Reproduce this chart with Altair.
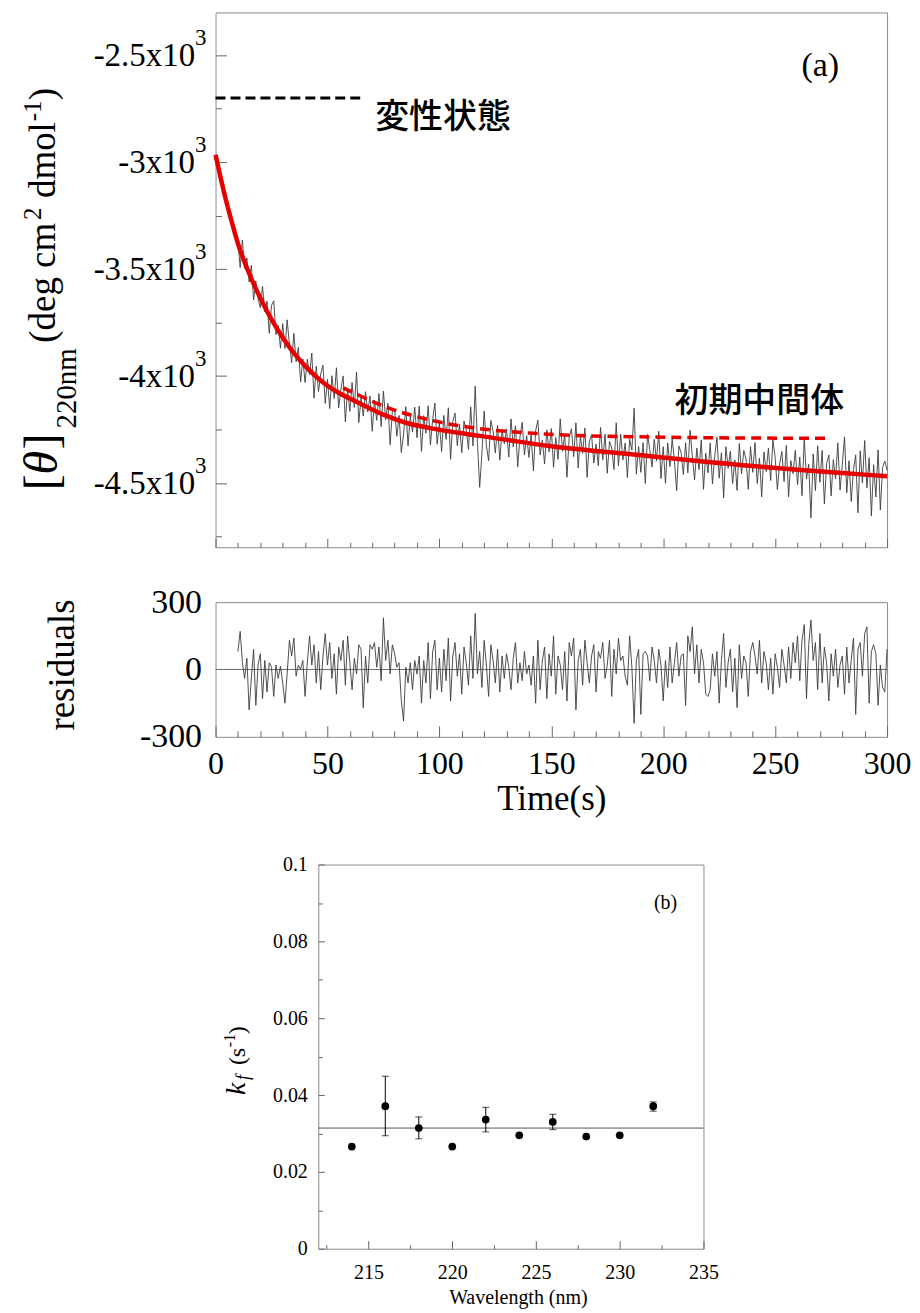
import altair as alt
import pandas as pd

SERIF = "Liberation Serif"
CJK = "Noto Sans CJK JP"
RED = "#e60000"
FRAME = "#8c8c8c"
TICK = "#666666"
TRACE = "#3c3c3c"

# ---------------- panel (a): kinetic trace ----------------
time_s = list(range(10, 301))
theta_obs = [
    -3370, -3492, -3364, -3496, -3448, -3560, -3482, -3644, -3556, -3638,
    -3680, -3580, -3700, -3650, -3800, -3670, -3648, -3806, -3763, -3870,
    -3755, -3871, -3737, -3852, -3937, -3800, -3933, -3866, -4028, -3920,
    -4030, -3921, -3992, -3892, -4103, -3953, -4072, -3990, -3949, -4127,
    -4015, -4152, -3998, -4105, -3961, -4148, -4063, -3999, -4214, -4060,
    -4165, -4030, -4146, -3981, -4217, -4102, -4187, -4073, -4168, -4093,
    -4258, -4112, -4207, -4081, -4236, -4070, -4204, -4127, -4321, -4164,
    -4158, -4281, -4184, -4357, -4270, -4143, -4326, -4189, -4262, -4145,
    -4288, -4140, -4352, -4185, -4267, -4139, -4321, -4203, -4126, -4318,
    -4220, -4352, -4184, -4296, -4148, -4389, -4211, -4173, -4325, -4226,
    -4358, -4210, -4251, -4343, -4144, -4326, -4047, -4309, -4520, -4362,
    -4163, -4324, -4396, -4207, -4259, -4360, -4231, -4393, -4254, -4316,
    -4247, -4378, -4200, -4331, -4232, -4424, -4285, -4216, -4368, -4279,
    -4380, -4272, -4443, -4255, -4206, -4368, -4299, -4411, -4252, -4354,
    -4245, -4426, -4287, -4389, -4200, -4351, -4272, -4473, -4285, -4246,
    -4377, -4218, -4429, -4280, -4361, -4242, -4473, -4304, -4275, -4407,
    -4318, -4419, -4240, -4391, -4272, -4454, -4305, -4336, -4437, -4218,
    -4420, -4271, -4392, -4313, -4474, -4295, -4346, -4150, -4458, -4329,
    -4450, -4311, -4502, -4273, -4344, -4425, -4296, -4397, -4258, -4479,
    -4330, -4501, -4312, -4423, -4294, -4395, -4536, -4327, -4358, -4460,
    -4311, -4452, -4253, -4374, -4485, -4336, -4437, -4298, -4529, -4360,
    -4452, -4313, -4504, -4375, -4286, -4477, -4358, -4569, -4330, -4431,
    -4351, -4502, -4393, -4534, -4315, -4456, -4347, -4388, -4529, -4330,
    -4450, -4311, -4502, -4383, -4564, -4355, -4446, -4337, -4488, -4299,
    -4379, -4530, -4411, -4352, -4493, -4324, -4564, -4395, -4456, -4347,
    -4507, -4378, -4559, -4290, -4481, -4412, -4663, -4364, -4535, -4326,
    -4496, -4347, -4598, -4408, -4369, -4560, -4391, -4481, -4312, -4533,
    -4413, -4284, -4545, -4396, -4586, -4437, -4368, -4639, -4349, -4500,
    -4301, -4522, -4382, -4653, -4414, -4565, -4345, -4626, -4427, -4397,
    -4440,
]
residual = [
    80, 170, 30, -40, 50, -180, -40, 90, -160, 20,
    70, -130, 40, -100, 30, 10, -120, 20, -40, 15,
    -60, -150, -20, 130, 60, 140, -30, 20, 0, 40,
    -120, 30, 150, 20, 110, -60, 80, -90, 60, 160,
    20, 120, -40, 70, -110, 100, 40, 130, -70, 150,
    30, -90, 50, -20, 110, 90, -170, 60, -60, 110,
    90, 120, 10, 100, -50, 230, 40, 130, -20, 110,
    70, 10, 30, -140, -230, 10, -60, 30, -90, 40,
    -20, 60, -150, 40, -60, 120, -130, 80, 130, -90,
    50, -100, 90, -50, 140, -140, 60, 120, -30, 70,
    -110, 100, 30, -70, 150, -40, 250, -20, 80, -80,
    130, 20, -120, 110, 40, -60, 90, -100, 60, -40,
    70, 10, -90, 50, 120, -60, 30, -50, 80, -20,
    20, -70, 60, -150, 130, -90, 40, 100, -130, 70,
    -30, 150, -110, 60, 20, -90, 80, -140, 120, 60,
    140, -180, 40, 90, -70, 130, 30, -60, 60, 110,
    -100, 80, 50, 120, -40, 20, 130, -120, 90, -20,
    140, 40, 60, -30, -70, 150, 10, -240, 40, 90,
    -200, 70, 80, 60, -50, 100, 40, -60, 90, 20,
    -140, 40, -80, 100, -60, 30, 120, -30, 60, 70,
    -160, 150, 80, 190, -20, 110, -60, 90, 30, -110,
    -120, -90, 70, -30, 80, -150, 40, 160, -80, 30,
    90, -100, 50, -170, 110, -40, 60, 30, -120, 80,
    120, 60, -20, 130, -60, 80, 30, -90, 50, -110,
    70, 10, -80, 90, 20, -60, 100, -40, 120, 30,
    150, -50, 130, 200, -130, 110, 220, 40, 120, -90,
    160, -60, 100, 30, -140, 70, -30, 90, -80, 20,
    60, -110, 100, -60, 40, 140, -200, 90, 120, -30,
    160, 190, -150, 80, 110, 70, -160, 20, -80, -100,
    90,
]
fit_t = [0, 2, 4, 7, 10, 15, 20, 25, 30, 35, 40, 45, 50, 55, 60, 67, 75, 85, 96,
         108, 125, 150, 175, 200, 220, 240, 260, 280, 300]
fit_v = [-2965, -3060, -3150, -3270, -3380, -3520, -3635, -3735, -3820, -3893,
         -3952, -4003, -4045, -4078, -4105, -4141, -4180, -4218, -4243, -4264,
         -4290, -4328, -4355, -4380, -4402, -4420, -4438, -4453, -4468]
inter_t = [57, 65, 75, 90, 105, 120, 140, 160, 190, 220, 250, 273]
inter_v = [-4055, -4094, -4140, -4190, -4225, -4248, -4266, -4277, -4284, -4288, -4290, -4291]
denat_t = [0, 65]
denat_v = [-2700, -2700]
zero_t = [0, 300]
zero_v = [0, 0]

a_y_labels = [-4500, -4000, -3500, -3000, -2500]
a_y_exp = ["3", "3", "3", "3", "3"]
a_y_ticks = [-4750, -4500, -4250, -4000, -3750, -3500, -3250, -3000, -2750, -2500]
t_labels = [0, 50, 100, 150, 200, 250, 300]
t_ticks = list(range(0, 301, 10))
r_labels = [-300, 0, 300]

# ---------------- panel (b): rate constants ----------------
wl = [214, 216, 218, 220, 222, 224, 226, 228, 230, 232]
kf = [0.0266, 0.0371, 0.0314, 0.0266, 0.0336, 0.0295, 0.0330, 0.0292, 0.0295, 0.0371]
eb_wl = [216, 218, 222, 226, 232]
eb_lo = [0.0294, 0.0286, 0.0304, 0.0310, 0.0358]
eb_hi = [0.0449, 0.0343, 0.0368, 0.0350, 0.0382]
mean_x = [212, 235]
mean_y = [0.0314, 0.0314]
b_y_labels = [0, 0.02, 0.04, 0.06, 0.08, 0.1]
b_y_ticks = [0, 0.01, 0.02, 0.03, 0.04, 0.05, 0.06, 0.07, 0.08, 0.09, 0.1]
b_x_labels = [215, 220, 225, 230, 235]
b_x_ticks = [212.5, 215, 217.5, 220, 222.5, 225, 227.5, 230, 232.5, 235]

W, H1, H2 = 673, 536, 135
WB, HB = 386, 385


def label_axis(orient, values, size, pad, title=None, **kw):
    return alt.Axis(orient=orient, values=values, ticks=False, domain=False, grid=False,
                    labelFont=SERIF, labelFontSize=size, labelColor="black",
                    labelPadding=pad, labelFlush=False, labelExpr="'' + datum.value",
                    title=title, **kw)


def tick_axis(orient, offset, values, test, big, small):
    return alt.Axis(orient=orient, offset=offset, values=values, labels=False,
                    domain=False, grid=False, title=None, ticks=True,
                    tickColor=TICK, tickWidth=1,
                    tickSize={"condition": {"test": test, "value": big}, "value": small})


def note(s, x, y, size, font=SERIF, angle=0, align="left", baseline="middle",
         style="normal", weight="normal", color="black"):
    kw = dict(align=align, baseline=baseline, font=font, fontSize=size,
              fontStyle=style, fontWeight=weight, color=color)
    if angle:
        kw["angle"] = angle
    return alt.Chart(pd.DataFrame({"s": [s]})).mark_text(**kw).encode(
        text="s:N", x=alt.value(x), y=alt.value(y))


def vtext(s, x, y, size, style="normal"):
    # rotated text reading bottom-to-top, starting at (x, y)
    return note(s, x, y, size, angle=270, baseline="alphabetic", style=style)


# ---------------- top chart ----------------
xs_a = alt.Scale(domain=[0, 300], nice=False, zero=False)
ys_a = alt.Scale(domain=[-4800, -2300], nice=False, zero=False)
x_a = alt.X("t:Q", scale=xs_a, axis=tick_axis("top", -H1, t_ticks, "datum.value % 50 === 0", 9, 5))

y_lab_a = alt.Axis(orient="left", values=a_y_labels, ticks=False, domain=False, grid=False,
                   labelFont=SERIF, labelFontSize=33, labelColor="black", labelPadding=21,
                   labelExpr="(datum.value / 1000) + 'x10'", title=None)

obs = alt.Chart(pd.DataFrame({"t": time_s, "v": theta_obs})).mark_line(
    color=TRACE, strokeWidth=0.9).encode(x=x_a, y=alt.Y("v:Q", scale=ys_a, axis=y_lab_a))
fit = alt.Chart(pd.DataFrame({"t": fit_t, "v": fit_v})).mark_line(
    color=RED, strokeWidth=4.5, interpolate="monotone").encode(
    x=x_a, y=alt.Y("v:Q", scale=ys_a,
                   axis=tick_axis("right", -W, a_y_ticks, "datum.value % 500 === 0", 11, 6)))
inter = alt.Chart(pd.DataFrame({"t": inter_t, "v": inter_v})).mark_line(
    color=RED, strokeWidth=3.5, strokeDash=[10, 6], interpolate="monotone").encode(
    x=x_a, y=alt.Y("v:Q", scale=ys_a, axis=None))
denat = alt.Chart(pd.DataFrame({"t": denat_t, "v": denat_v})).mark_line(
    color="black", strokeWidth=3, strokeDash=[10, 5]).encode(
    x=x_a, y=alt.Y("v:Q", scale=ys_a, axis=None))
exps = alt.Chart(pd.DataFrame({"v": a_y_labels, "s": a_y_exp})).mark_text(
    align="right", baseline="middle", font=SERIF, fontSize=23, dy=-17, color="black").encode(
    x=alt.value(-9), y=alt.Y("v:Q", scale=ys_a, axis=None), text="s:N")

top = alt.layer(
    obs, fit, inter, denat, exps,
    note(".", -205, 0, 6, color="white", baseline="top"),
    note("(a)", 606, 54, 34, align="center"),
    note("変性状態", 160, 106, 34, font=CJK, weight=500),
    note("初期中間体", 460, 390, 34, font=CJK, weight=500),
    vtext("(deg cm", -161, 331, 37),
    vtext("2", -175, 208, 25),
    vtext("dmol", -161, 186, 37),
    vtext("-1", -175, 109, 25),
    vtext(")", -161, 88, 37),
    vtext("220nm", -140, 417, 29),
    vtext("[", -159, 479, 48),
    vtext("θ", -159, 463, 48, style="italic"),
    vtext("]", -159, 438, 48),
).resolve_axis(y="independent").properties(width=W, height=H1)

# ---------------- residual chart ----------------
ys_r = alt.Scale(domain=[-300, 300], nice=False, zero=False)
x_r_lab = alt.X("t:Q", scale=xs_a, axis=label_axis(
    "bottom", t_labels, 32, 12, title="Time(s)", titleFont=SERIF, titleFontSize=35,
    titleFontWeight="normal", titleColor="black", titleY=45, titleBaseline="top"))
x_r_tick = alt.X("t:Q", scale=xs_a, axis=tick_axis("top", -H2, t_ticks, "datum.value % 50 === 0", 11, 6))

res_line = alt.Chart(pd.DataFrame({"t": time_s, "r": residual})).mark_line(
    color=TRACE, strokeWidth=0.9).encode(
    x=x_r_lab, y=alt.Y("r:Q", scale=ys_r, axis=label_axis("left", r_labels, 34, 14)))
zero_line = alt.Chart(pd.DataFrame({"t": zero_t, "r": zero_v})).mark_line(
    color="#6a6a6a", strokeWidth=1).encode(x=x_r_tick, y=alt.Y("r:Q", scale=ys_r, axis=None))

resid = alt.layer(
    zero_line, res_line,
    note(".", -205, 0, 6, color="white", baseline="top"),
    note("residuals", -142, 63, 37, angle=270, align="center", baseline="alphabetic"),
).resolve_axis(x="independent", y="independent").properties(width=W, height=H2)

# ---------------- bottom chart (b) ----------------
xs_b = alt.Scale(domain=[212, 235], nice=False, zero=False)
ys_b = alt.Scale(domain=[0, 0.1], nice=False, zero=False)

mean_line = alt.Chart(pd.DataFrame({"w": mean_x, "k": mean_y})).mark_line(
    color="#555555", strokeWidth=1).encode(
    x=alt.X("w:Q", scale=xs_b, axis=tick_axis("top", -HB, b_x_ticks, "datum.value % 5 === 0", 8, 4)),
    y=alt.Y("k:Q", scale=ys_b,
            axis=tick_axis("right", -WB, b_y_ticks, "round(datum.value * 100) % 2 === 0", 6, 4)))
eb_df = pd.DataFrame({"w": eb_wl, "lo": eb_lo, "hi": eb_hi})
err = alt.Chart(eb_df).mark_rule(color="black", strokeWidth=1).encode(
    x=alt.X("w:Q", scale=xs_b, axis=None),
    y=alt.Y("lo:Q", scale=ys_b, axis=None), y2="hi:Q")
cap_lo = alt.Chart(eb_df).mark_tick(orient="horizontal", size=7, thickness=1, color="black").encode(
    x=alt.X("w:Q", scale=xs_b, axis=None), y=alt.Y("lo:Q", scale=ys_b, axis=None))
cap_hi = alt.Chart(eb_df).mark_tick(orient="horizontal", size=7, thickness=1, color="black").encode(
    x=alt.X("w:Q", scale=xs_b, axis=None), y=alt.Y("hi:Q", scale=ys_b, axis=None))
pts = alt.Chart(pd.DataFrame({"w": wl, "k": kf})).mark_circle(
    size=60, color="black", opacity=1).encode(
    x=alt.X("w:Q", scale=xs_b, axis=label_axis(
        "bottom", b_x_labels, 20, 14, title="Wavelength (nm)", titleFont=SERIF,
        titleFontSize=20, titleFontWeight="normal", titleColor="black",
        titleY=39, titleX=200, titleBaseline="top", titleAlign="center")),
    y=alt.Y("k:Q", scale=ys_b, axis=label_axis("left", b_y_labels, 20, 11)))

bottom = alt.layer(
    mean_line, err, cap_lo, cap_hi, pts,
    note(".", -100, 0, 6, color="white", baseline="top"),
    note("(b)", 348, 39, 20, align="center"),
    vtext("k", -73, 231, 28, style="italic"),
    vtext("f", -69, 216, 18, style="italic"),
    vtext("(s", -73, 201, 24),
    vtext("-1", -83, 183, 16),
    vtext(")", -73, 170, 24),
).resolve_axis(x="independent", y="independent").properties(width=WB, height=HB)

blank = note(" ", 0, 0, 6, color="white", baseline="top").properties(
    width=1, height=1, view=alt.ViewBackground(stroke="transparent"))

chart = alt.vconcat(top, resid, alt.hconcat(blank, bottom, spacing=0), spacing=36).properties(
    padding={"left": 2, "top": 2, "right": 0, "bottom": 0},
    background="white",
).configure_view(stroke=FRAME, strokeWidth=1)

chart.save("out.html", embed_options={"renderer": "svg", "actions": False})
